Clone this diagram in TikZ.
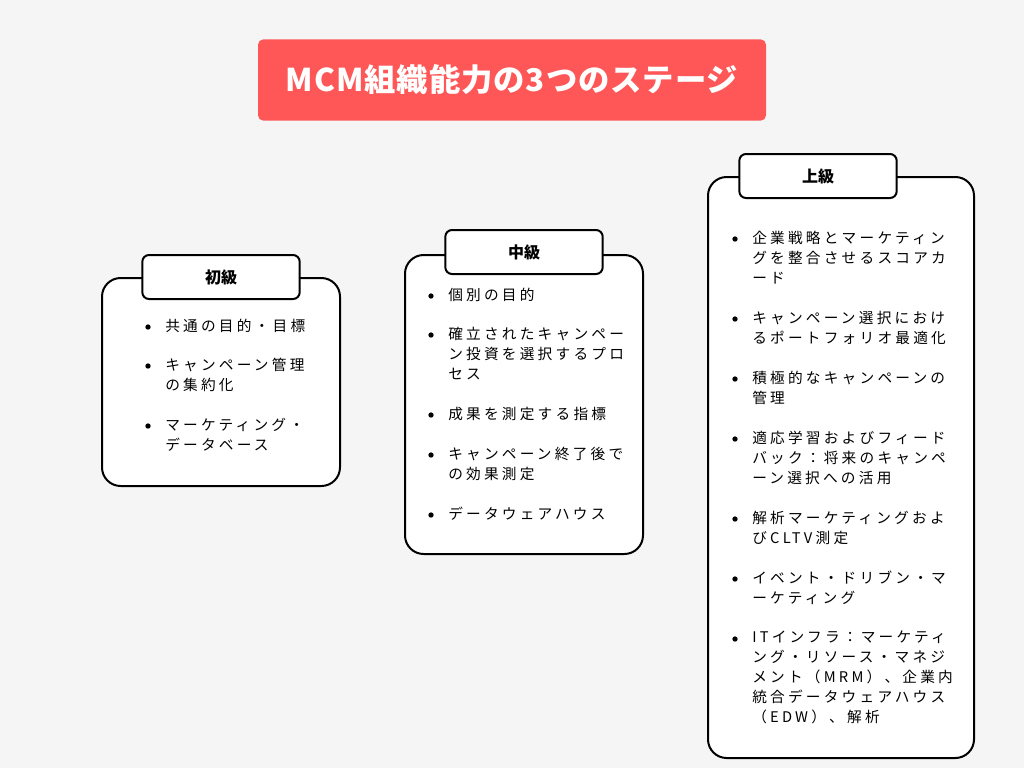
\documentclass[tikz,border=0pt]{standalone}
\usepackage{fontspec}
\setmainfont{Noto Sans CJK JP}
\newfontfamily\spacedfont[LetterSpace=22]{Noto Sans CJK JP}
\newfontfamily\titlefont[LetterSpace=3]{Noto Sans CJK JP}
\usetikzlibrary{positioning}
\definecolor{bgGray}{HTML}{F5F5F5}
\definecolor{titleRed}{HTML}{FF5757}
\tikzset{
  panel/.style={draw=black,line width=1.5pt,fill=white,rounded corners=14pt},
  tab/.style={draw=black,line width=1.5pt,fill=white,rounded corners=5pt,minimum width=118pt,minimum height=33pt,font=\fontsize{12}{14}\selectfont\bfseries},
  item/.style={anchor=north west,inner sep=0pt,align=left,font=\spacedfont\fontsize{11}{15}\selectfont},
  dot/.style={circle,fill=black,inner sep=0pt,minimum size=4pt}
}
\newcommand{\bul}[4]{% name, x, y, text
  \node[dot] at (#2-17,#3) {};
  \node[item] (#1) at (#2,#3-8) {#4};}
\begin{document}
\begin{tikzpicture}[x=0.75pt,y=-0.75pt]
  \fill[bgGray] (0,0) rectangle (1024,768);
  \useasboundingbox (0,0) rectangle (1024,768);
  % title
  \node[fill=titleRed,rounded corners=4pt,minimum width=381pt,minimum height=61pt,text=white,font=\titlefont\fontsize{23.5}{28}\selectfont\bfseries] (title) at (512,80) {MCM組織能力の3つのステージ};
  % panels
  \draw[panel] (102,278) rectangle (340,486);
  \node[tab] (basic) at (221,277) {初級};
  \draw[panel] (405,255) rectangle (643,554);
  \node[tab] (middle) at (524,252) {中級};
  \draw[panel] (708,177) rectangle (974,758);
  \node[tab] (advanced) at (818,176) {上級};
  % items
  \bul{b1}{165}{327}{共通の目的・目標}
  \bul{b2}{165}{366}{キャンペーン管理\\の集約化}
  \bul{b3}{165}{426}{マーケティング・\\データベース}
  \bul{m1}{448}{296}{個別の目的}
  \bul{m2}{448}{335}{確立されたキャンペー\\ン投資を選択するプロ\\セス}
  \bul{m3}{448}{415}{成果を測定する指標}
  \bul{m4}{448}{455}{キャンペーン終了後で\\の効果測定}
  \bul{m5}{448}{515}{データウェアハウス}
  \bul{a1}{752}{239}{企業戦略とマーケティン\\グを整合させるスコアカ\\ード}
  \bul{a2}{752}{319}{キャンペーン選択におけ\\るポートフォリオ最適化}
  \bul{a3}{752}{379}{積極的なキャンペーンの\\管理}
  \bul{a4}{752}{439}{適応学習およびフィード\\バック：将来のキャンペ\\ーン選択への活用}
  \bul{a5}{752}{519}{解析マーケティングおよ\\びCLTV測定}
  \bul{a6}{752}{579}{イベント・ドリブン・マ\\ーケティング}
  \bul{a7}{752}{639}{ITインフラ：マーケティ\\ング・リソース・マネジ\\メント（MRM）、企業内\\統合データウェアハウス\\（EDW）、解析}
\end{tikzpicture}
\end{document}
